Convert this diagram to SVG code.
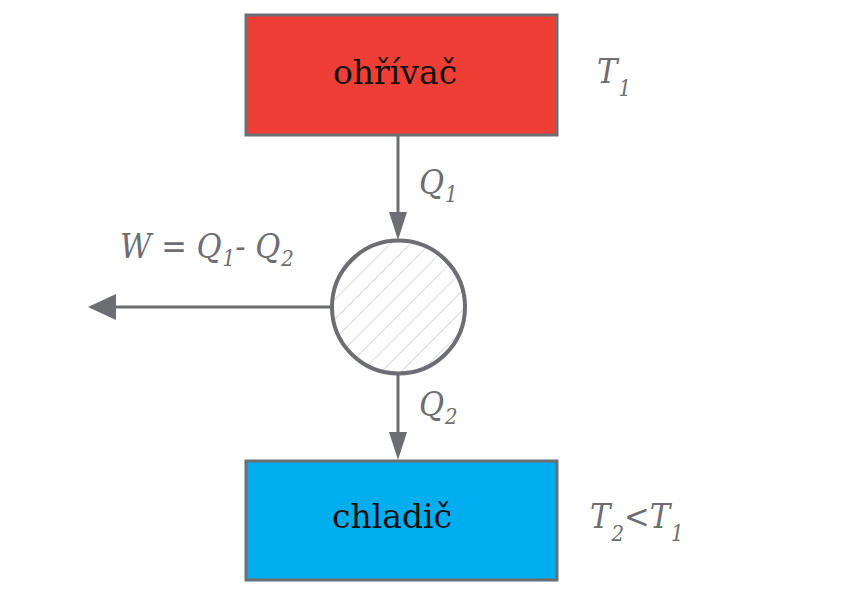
<svg xmlns="http://www.w3.org/2000/svg" width="842" height="596" viewBox="0 0 842 596">
<style>
.box{stroke:#6d6e71;stroke-width:3}
.lbl{font-family:"DejaVu Serif","Liberation Serif",serif;font-size:33px;fill:#111}
.math{font-family:"DejaVu Serif","Liberation Serif",serif;font-stretch:condensed;font-style:italic;font-size:34px;fill:#6d6e71}
.sub{font-size:22px}
.conn{stroke:#6d6e71;stroke-width:3;fill:none}
</style>
<defs>
<pattern id="hatch" patternUnits="userSpaceOnUse" width="14" height="14" patternTransform="rotate(45)">
<line x1="0" y1="0" x2="0" y2="14" stroke="#b8b8b8" stroke-width="1"/>
</pattern>
</defs>
<rect width="842" height="596" fill="#fff"/>
<g id="connectors">
<line class="conn" x1="398" y1="135" x2="398" y2="214"/>
<path d="M389,212 L407,212 L398,240 z" fill="#6d6e71"/>
<line class="conn" x1="398" y1="374" x2="398" y2="434"/>
<path d="M389,432 L407,432 L398,460 z" fill="#6d6e71"/>
<line class="conn" x1="331" y1="307" x2="114" y2="307"/>
<path d="M116,294 L116,320 L88,307 z" fill="#6d6e71"/>
</g>
<g id="heater">
<rect class="box" x="246" y="15" width="311" height="120" fill="#ef3e36"/>
<text class="lbl" x="395" y="84" text-anchor="middle">ohřívač</text>
</g>
<g id="cooler">
<rect class="box" x="246" y="461" width="311" height="119" fill="#00aeef"/>
<text class="lbl" x="392" y="528" text-anchor="middle">chladič</text>
</g>
<g id="engine">
<circle cx="398.5" cy="307" r="66.5" fill="url(#hatch)" stroke="#6d6e71" stroke-width="4"/>
</g>
<g id="labels">
<text class="math" x="597" y="83">T<tspan class="sub" dx="1" dy="13">1</tspan></text>
<text class="math" x="419" y="194">Q<tspan class="sub" dx="1" dy="8">1</tspan></text>
<text class="math" x="419" y="416">Q<tspan class="sub" dx="1" dy="8">2</tspan></text>
<text class="math" x="120" y="258">W = Q<tspan class="sub" dx="1" dy="8">1</tspan><tspan dy="-8">- Q</tspan><tspan class="sub" dx="1" dy="8">2</tspan></text>
<text class="math" x="590" y="528">T<tspan class="sub" dx="1" dy="13">2</tspan><tspan dy="-13">&lt;T</tspan><tspan class="sub" dx="1" dy="13">1</tspan></text>
</g>
</svg>
